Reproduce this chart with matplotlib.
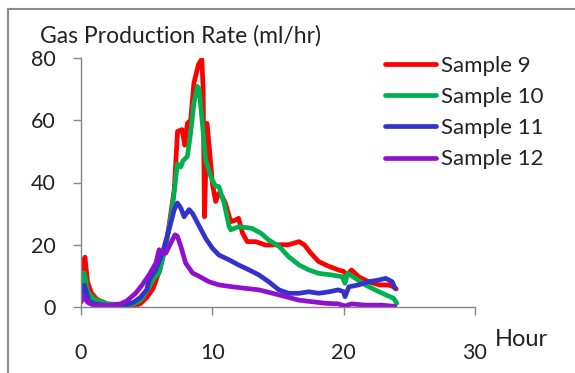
import numpy as np
import matplotlib
matplotlib.use('Agg')
from matplotlib import pyplot as plt
from matplotlib.lines import Line2D

# %% -----------------------------------------------------------------------------------------------
# data (hour, gas production rate ml/hr)

hour_9 = [0, 0.15, 0.3, 0.5, 0.8, 1.2, 2, 3, 4, 4.5, 5, 5.5, 6, 6.5, 6.7, 7.1, 7.35, 7.7, 7.9, 8.1,
          8.35, 8.6, 8.95, 9.2, 9.3, 9.4, 9.6, 9.9, 10.0, 10.25, 10.5, 10.75, 11.0, 11.4, 11.8, 12.0,
          12.3, 12.66, 13.3, 14.06, 15.07, 15.8, 16.6, 17.0, 17.5, 18.1, 18.9, 19.6, 20.0, 20.26,
          20.6, 21.15, 21.9, 22.7, 23.4, 23.8, 24.0]
rate_9 = [7, 13, 16, 8, 4.5, 2.5, 1, 0.5, 0.3, 1, 3, 6, 12, 21, 26, 37.7, 56.4, 57, 52, 59,
          60, 72, 78, 79.6, 70, 29, 59, 45, 39.8, 33.9, 36.5, 35.5, 33.3, 27.4, 28, 28.5,
          23.7, 21, 21, 19.9, 20, 20, 21, 20, 17.3, 14.6, 13, 11.9, 11.4, 10.3,
          11.9, 9.7, 8.1, 7.1, 7.1, 6.5, 5.8]

hour_10 = [0, 0.25, 0.5, 1, 2, 3, 4, 4.5, 5, 5.5, 5.95, 6.46, 6.96, 7.34, 7.6, 7.77, 8.1, 8.35,
           8.6, 8.86, 9.0, 9.24, 9.5, 9.87, 10.0, 10.25, 10.5, 10.9, 11.27, 11.4, 12.0, 13.0,
           13.7, 14.3, 15.1, 15.8, 16.6, 17.35, 18.1, 19.1, 19.9, 20.1, 20.3, 20.9, 21.65,
           22.4, 23.2, 23.8, 24.05]
rate_10 = [5, 11, 5, 2.5, 1, 0.8, 1, 2, 5, 9, 11, 19.5, 32, 46, 45, 47, 48.4, 56,
           65.5, 70.9, 70, 59, 47, 42, 40.8, 38.8, 38.7, 33.3, 26, 24.8, 25.8, 25.3,
           23.7, 21.5, 19.4, 16.2, 13.5, 11.9, 10.8, 10.3, 9.7, 7.6, 10.8, 9.2, 7.1,
           5.5, 3.9, 2.8, 1.2]

hour_11 = [0, 0.25, 0.6, 1, 2, 3, 3.5, 4, 4.5, 5, 5.2, 5.7, 6.2, 6.7, 7.1, 7.34, 7.6, 7.85,
           8.23, 8.5, 9.0, 9.5, 10.0, 10.5, 11.3, 12.0, 12.8, 13.55, 14.3, 15.07, 15.8, 16.6,
           17.35, 18.1, 18.9, 19.6, 20.0, 20.1, 20.4, 21.15, 21.9, 22.7, 23.2, 23.7, 23.9]
rate_11 = [3, 7, 2, 1, 0.5, 0.5, 0.8, 1.5, 3, 5.5, 8.8, 12, 17.3, 24.8, 31.3, 33.4, 31.8, 29,
           31.3, 30, 26, 22, 18.9, 16.7, 15.1, 13.5, 11.9, 10.3, 8.1, 5.5, 4.4, 4.4,
           4.9, 4.4, 4.9, 5.5, 4.9, 3.3, 6.5, 7.1, 8.1, 8.7, 9.2, 8.1, 6.0]

hour_12 = [0, 0.2, 0.5, 1, 2, 3, 3.5, 4.18, 4.68, 5.2, 5.7, 5.95, 6.2, 6.46, 6.84, 7.16, 7.34,
           7.6, 7.97, 8.5, 9.0, 9.75, 10.5, 11.5, 12.5, 13.55, 14.6, 15.6, 16.6, 17.6, 18.6,
           19.6, 20.1, 20.6, 21.65, 22.9, 23.9]
rate_12 = [1.5, 3.5, 1.5, 0.5, 0.5, 1, 2, 4.5, 7.2, 10.4, 14.1, 18.4, 17.3, 17.3, 20.6, 23.2, 22.7,
           19.5, 14.1, 10.9, 9.85, 8.1, 7.1, 6.5, 6.0, 5.5, 4.4, 3.3, 2.2, 1.7, 1.2,
           1.0, 0.3, 1.0, 0.6, 0.6, 0.2]

series = [(hour_9, rate_9, 'Sample 9', '#FF0000'),
          (hour_10, rate_10, 'Sample 10', '#00B050'),
          (hour_11, rate_11, 'Sample 11', '#3333CC'),
          (hour_12, rate_12, 'Sample 12', '#9010D0')]

x_ticks = [0, 10, 20, 30]
y_ticks = [0, 20, 40, 60, 80]

# %% -----------------------------------------------------------------------------------------------
# plot

plt.rcParams['font.family'] = ['Lato', 'DejaVu Sans']
fig = plt.figure(figsize=[5.75, 3.73], dpi=100)
ax = fig.add_axes([81/575, 1-307/373, (475-81)/575, (307-58)/373])

for hh, rr, name, col in series:
    ax.plot(hh, rr, color=col, linewidth=3.4, label=name, solid_capstyle='round')

ax.set_xlim(0, 30)
ax.set_ylim(0, 80)
ax.set_xticks(x_ticks)
ax.set_yticks(y_ticks)
for side in ['top', 'right']:
    ax.spines[side].set_visible(False)
for side in ['left', 'bottom']:
    ax.spines[side].set_color('#868686')
    ax.spines[side].set_linewidth(1)
ax.tick_params(axis='both', colors='#868686', labelcolor='#222222', labelsize=15.5,
               length=6, width=1, direction='out')
ax.tick_params(axis='x', pad=20)
ax.tick_params(axis='y', pad=12)

# axis titles
fig.text(40/575, 1-36/373, 'Gas Production Rate (ml/hr)', fontsize=16.5, color='#222222',
         va='center', ha='left')
fig.text(495/575, 1-340/373, 'Hour', fontsize=17, color='#222222', va='center', ha='left')

# legend
leg = ax.legend(loc='upper left', bbox_to_anchor=(385/575, 1-56/373), bbox_transform=fig.transFigure,
                frameon=False, fontsize=16, handlelength=2.3, handletextpad=0.2,
                labelspacing=0.5, borderpad=0, borderaxespad=0)
for t in leg.get_texts():
    t.set_color('#222222')
for l in leg.get_lines():
    l.set_linewidth(3.4)

# grey frame round the chart (only left and top edges visible)
fig.add_artist(Line2D([8/575, 8/575], [0, 1-9/373], color='#8c8c8c', linewidth=1.5,
                      transform=fig.transFigure))
fig.add_artist(Line2D([8/575, 1], [1-9/373, 1-9/373], color='#8c8c8c', linewidth=1.5,
                      transform=fig.transFigure))

fig.savefig('out.png', dpi=100)
